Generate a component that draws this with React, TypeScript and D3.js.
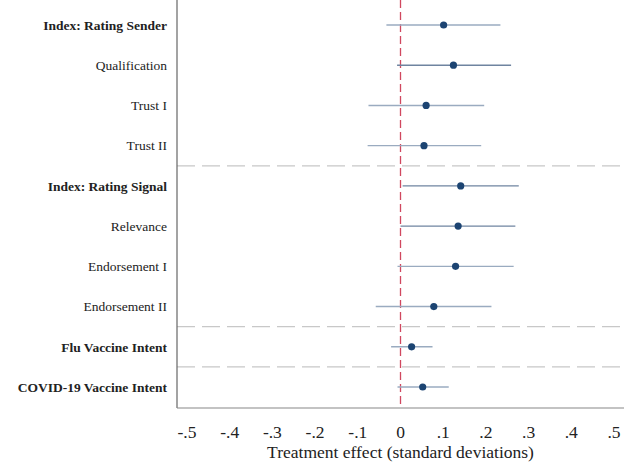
import React, { useEffect, useRef } from "react";
import * as d3 from "d3";

const labels = [
  "Index: Rating Sender",
  "Qualification",
  "Trust I",
  "Trust II",
  "Index: Rating Signal",
  "Relevance",
  "Endorsement I",
  "Endorsement II",
  "Flu Vaccine Intent",
  "COVID-19 Vaccine Intent",
];
const boldRows = [true, false, false, false, true, false, false, false, true, true];
const estimates = [0.101, 0.124, 0.06, 0.055, 0.141, 0.135, 0.129, 0.078, 0.026, 0.052];
const lower = [-0.033, -0.008, -0.075, -0.077, 0.005, 0.0, -0.007, -0.058, -0.022, -0.007];
const upper = [0.234, 0.259, 0.196, 0.189, 0.277, 0.269, 0.265, 0.213, 0.075, 0.113];
// rows after which a dashed separator is drawn
const separatorsAfter = [3, 7, 8];
const tickValues = [-0.5, -0.4, -0.3, -0.2, -0.1, 0, 0.1, 0.2, 0.3, 0.4, 0.5];
const tickLabels = ["-.5", "-.4", "-.3", "-.2", "-.1", "0", ".1", ".2", ".3", ".4", ".5"];

const App = () => {
  const ref = useRef<SVGSVGElement>(null);

  useEffect(() => {
    const width = 624, height = 465;
    const svg = d3.select(ref.current).attr("width", width).attr("height", height);
    svg.selectAll("*").remove();

    const axisX = 177, axisY = 408;

    const x = d3.scaleLinear().domain([-0.5, 0.5]).range([187, 614]);
    const y = d3.scalePoint<string>().domain(labels).range([25, 387]);

    // separators
    separatorsAfter.forEach(i => {
      const yy = (y(labels[i])! + y(labels[i + 1])!) / 2;
      svg.append("line")
        .attr("x1", axisX).attr("x2", width)
        .attr("y1", yy).attr("y2", yy)
        .attr("stroke", "#c8c8c8").attr("stroke-width", 1.3)
        .attr("stroke-dasharray", "18,7");
    });

    // zero line
    svg.append("line")
      .attr("x1", x(0)).attr("x2", x(0))
      .attr("y1", 0).attr("y2", axisY)
      .attr("stroke", "#d0485f").attr("stroke-width", 1.3)
      .attr("stroke-dasharray", "8,4");

    // axes
    svg.append("line")
      .attr("x1", axisX).attr("x2", axisX)
      .attr("y1", 0).attr("y2", axisY)
      .attr("stroke", "#666").attr("stroke-width", 1.2);
    svg.append("line")
      .attr("x1", axisX).attr("x2", width)
      .attr("y1", axisY).attr("y2", axisY)
      .attr("stroke", "#888").attr("stroke-width", 1.2);

    // row labels
    svg.append("g").selectAll("text")
      .data(labels)
      .enter()
      .append("text")
      .attr("x", 167)
      .attr("y", d => y(d)!)
      .attr("dy", "0.35em")
      .attr("text-anchor", "end")
      .style("font-size", "13.5px")
      .style("font-weight", (d, i) => (boldRows[i] ? "bold" : "normal"))
      .attr("fill", "#222")
      .text(d => d);

    // confidence intervals
    svg.append("g").selectAll("line")
      .data(labels)
      .enter()
      .append("line")
      .attr("x1", (d, i) => x(lower[i]))
      .attr("x2", (d, i) => x(upper[i]))
      .attr("y1", d => y(d)!)
      .attr("y2", d => y(d)!)
      .attr("stroke", (d, i) => (i === 1 || i === 4 || i === 5 ? "#6f84a0" : "#9aabc0"))
      .attr("stroke-width", 1.4);

    // estimates
    svg.append("g").selectAll("circle")
      .data(labels)
      .enter()
      .append("circle")
      .attr("cx", (d, i) => x(estimates[i]))
      .attr("cy", d => y(d)!)
      .attr("r", 3.6)
      .attr("fill", "#1c4472");

    // x tick labels
    svg.append("g").selectAll("text")
      .data(tickValues)
      .enter()
      .append("text")
      .attr("x", d => x(d))
      .attr("y", 438)
      .attr("text-anchor", "middle")
      .style("font-size", "17.5px")
      .attr("fill", "#222")
      .text((d, i) => tickLabels[i]);

    svg.append("text")
      .attr("x", x(0))
      .attr("y", 458)
      .attr("text-anchor", "middle")
      .style("font-size", "17.5px")
      .attr("fill", "#222")
      .text("Treatment effect (standard deviations)");
  }, []);

  return (
    <svg
      ref={ref}
      style={{ position: "absolute", left: 0, top: 0, fontFamily: '"Liberation Serif", "DejaVu Serif", serif' }}
    ></svg>
  );
};

export default App;
